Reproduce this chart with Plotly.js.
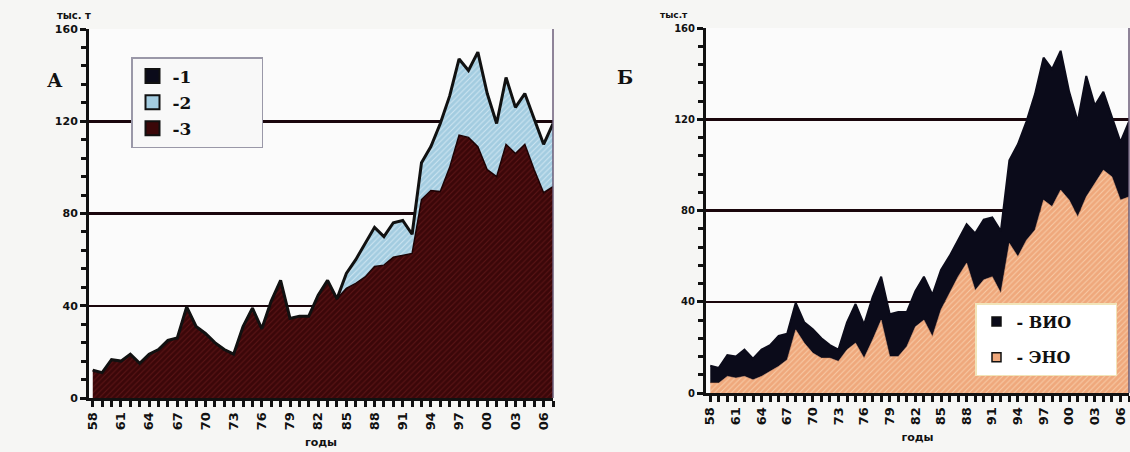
<!DOCTYPE html>
<html>
<head>
<meta charset="utf-8">
<script src="https://cdn.plot.ly/plotly-3.0.1.min.js"></script>
<style>html,body{margin:0;padding:0;background:#f6f6f4;}#chart{width:1130px;height:452px;}</style>
</head>
<body>
<div id="chart"></div>
<script>
// Years 1958–2007
const years = [1958,1959,1960,1961,1962,1963,1964,1965,1966,1967,
               1968,1969,1970,1971,1972,1973,1974,1975,1976,1977,
               1978,1979,1980,1981,1982,1983,1984,1985,1986,1987,
               1988,1989,1990,1991,1992,1993,1994,1995,1996,1997,
               1998,1999,2000,2001,2002,2003,2004,2005,2006,2007];
const tickYears = [1958,1961,1964,1967,1970,1973,1976,1979,1982,1985,1988,1991,1994,1997,2000,2003,2006];
const tickLabels = ['58','61','64','67','70','73','76','79','82','85','88','91','94','97','00','03','06'];
const yTicks = [0,40,80,120,160];

// Chart A: series 3 (bottom, maroon) and series 2 (blue, above), thousand t
const series3 = [12,11,16.6,16,19,15,19,21,25,26,
                 39.5,31,28,24,21,19,31,39,30,42,
                 51,34.5,35.5,35.5,44.6,51,43,47.5,49.7,52.5,
                 57,57.6,61,62,62.7,86,90,89.5,100,114,
                 113,109,99,96,110,106,110,99,89,91.6];
const series2 = [0,0,0,0,0,0,0,0,0,0,
                 0,0,0,0,0,0,0,0,0,0,
                 0,0,0,0,0,0,0,6.5,10.3,14.5,
                 17,12.4,15,15,8.3,16,19,29.5,31,33,
                 29,41,33,23,29,20,22,22,21,27.4];

// Chart Б: ЭНО (bottom) and ВИО (top)
const eno = [4.4,4.4,7.3,6.6,7.3,5.8,7.3,9.5,11.7,14.6,
             27.7,21.9,17.5,15.3,15.3,13.9,19,21.9,15.3,23.3,
             32,16,16,20.4,29,32,24.8,36.5,43.8,51,
             57,45,49.6,51,43.8,65.6,59.8,67,71.5,84.6,
             81.7,89,84.6,77.3,86,91.9,97.7,94.8,84.6,86];
const vio = [7.6,6.6,9.3,9.4,11.7,9.2,11.7,11.5,13.3,11.4,
             11.8,9.1,10.5,8.7,5.7,5.1,12,17.1,14.7,18.7,
             19,18.5,19.5,15.1,15.6,19,18.2,17.5,16.2,16,
             17,25,26.4,26,27.2,36.4,49.2,52,59.5,62.4,
             60.3,61,47.4,41.7,53,34.1,34.3,26.2,25.4,33];

const legendA = ['-1','-2','-3'];
const legendB = ['- ВИО','- ЭНО'];

const C = {
  maroon:'#3b0709', maroonHatch:'#5c1516',
  blue:'#a3cce0', blueHatch:'#cfe6f2',
  black:'#0b0b1a',
  orange:'#efa87c', orangeHatch:'#f8cba8',
  ink:'#111111'
};
const PAD = '\u00a0\u00a0\u00a0\u00a0\u00a0\u00a0\u00a0\u00a0\u00a0\u00a0\u00a0';

const traces = [
  {x:years, y:series3, xaxis:'x', yaxis:'y', type:'scatter', mode:'lines', stackgroup:'a',
   line:{color:'#1c0204', width:1.5}, fillcolor:C.maroon,
   fillpattern:{shape:'/', fgcolor:C.maroonHatch, bgcolor:C.maroon, size:4, solidity:0.25},
   showlegend:false, hoverinfo:'skip'},
  {x:years, y:series2, xaxis:'x', yaxis:'y', type:'scatter', mode:'lines', stackgroup:'a',
   line:{color:C.ink, width:3}, fillcolor:C.blue,
   fillpattern:{shape:'/', fgcolor:C.blueHatch, bgcolor:C.blue, size:4, solidity:0.25},
   showlegend:false, hoverinfo:'skip'},
  {x:years, y:eno, xaxis:'x2', yaxis:'y2', type:'scatter', mode:'lines', stackgroup:'b',
   line:{color:'#d98a5e', width:0.5}, fillcolor:C.orange,
   fillpattern:{shape:'/', fgcolor:C.orangeHatch, bgcolor:C.orange, size:4, solidity:0.25},
   showlegend:false, hoverinfo:'skip'},
  {x:years, y:vio, xaxis:'x2', yaxis:'y2', type:'scatter', mode:'lines', stackgroup:'b',
   line:{color:C.black, width:2}, fillcolor:C.black,
   showlegend:false, hoverinfo:'skip'},
  // legend entries
  {x:[null], y:[null], xaxis:'x', yaxis:'y', type:'scatter', mode:'markers', name:legendA[0]+PAD, legend:'legend', legendgroup:'a1',
   marker:{symbol:'square', size:14, color:C.black, line:{color:C.ink, width:2}}},
  {x:[null], y:[null], xaxis:'x', yaxis:'y', type:'scatter', mode:'markers', name:legendA[1]+PAD, legend:'legend', legendgroup:'a2',
   marker:{symbol:'square', size:14, color:C.blue, line:{color:C.ink, width:2}}},
  {x:[null], y:[null], xaxis:'x', yaxis:'y', type:'scatter', mode:'markers', name:legendA[2]+PAD, legend:'legend', legendgroup:'a3',
   marker:{symbol:'square', size:14, color:C.maroon, line:{color:C.ink, width:2}}},
  {x:[null], y:[null], xaxis:'x2', yaxis:'y2', type:'scatter', mode:'markers', name:legendB[0]+PAD.slice(0,7), legend:'legend2', legendgroup:'b1',
   marker:{symbol:'square', size:9, color:C.black, line:{color:C.ink, width:1.5}}},
  {x:[null], y:[null], xaxis:'x2', yaxis:'y2', type:'scatter', mode:'markers', name:legendB[1]+PAD.slice(0,7), legend:'legend2', legendgroup:'b2',
   marker:{symbol:'square', size:9, color:C.orange, line:{color:C.ink, width:1.5}}}
];

function xAxis(domain, range, anchor){
  return {
    domain:domain, range:range, anchor:anchor,
    tickmode:'array', tickvals:tickYears, ticktext:tickLabels, tickangle:-90,
    tickfont:{family:'DejaVu Sans', size:13, color:C.ink, weight:'bold'},
    ticks:'outside', ticklen:6, tickwidth:3, tickcolor:C.ink,
    minor:{dtick:1, ticks:'outside', ticklen:6, tickwidth:3, tickcolor:C.ink},
    showline:true, linewidth:3, linecolor:C.ink, showgrid:false, zeroline:false,
    title:{text:'годы', font:{family:'DejaVu Sans', size:11, color:C.ink, weight:'bold'}, standoff:10}
  };
}
function yAxis(domain, anchor, fontSize){
  return {
    domain:domain, range:[0,160], anchor:anchor,
    tickmode:'array', tickvals:yTicks,
    tickfont:{family:'DejaVu Sans', size:fontSize, color:C.ink, weight:'bold'},
    ticks:'outside', ticklen:6, tickwidth:3, tickcolor:C.ink,
    minor:{dtick:8, ticks:'outside', ticklen:5, tickwidth:3, tickcolor:C.ink},
    showline:true, linewidth:3, linecolor:C.ink,
    showgrid:true, gridcolor:'#1a060c', gridwidth:2.5, zeroline:false
  };
}

const layout = {
  width:1130, height:452,
  margin:{l:0, r:0, t:0, b:0},
  paper_bgcolor:'#f6f6f4', plot_bgcolor:'#fbfbfb',
  xaxis: xAxis([89/1130, 553/1130], [1957.6, 2007], 'y'),
  yaxis: yAxis([(452-398)/452, (452-29)/452], 'x', 11),
  xaxis2: xAxis([706/1130, 1129/1130], [1957.5, 2007], 'y2'),
  yaxis2: yAxis([(452-393)/452, (452-28)/452], 'x2', 10),
  legend:{x:131/1130, y:1-57/452, xanchor:'left', yanchor:'top',
          bgcolor:'#f8f8f8', bordercolor:'#9a98a8', borderwidth:1.5,
          font:{family:'DejaVu Serif', size:17, color:C.ink, weight:'bold'},
          traceorder:'grouped', tracegroupgap:1, itemclick:false},
  legend2:{x:975/1130, y:1-303/452, xanchor:'left', yanchor:'top',
          bgcolor:'#ffffff', bordercolor:'#f1e4b8', borderwidth:1.5,
          font:{family:'DejaVu Serif', size:16, color:C.ink, weight:'bold'},
          traceorder:'grouped', tracegroupgap:12, itemclick:false},
  shapes:[
    {type:'line', xref:'x domain', yref:'y domain', x0:1, x1:1, y0:0, y1:1, line:{color:'#6b5d78', width:1.5}},
    {type:'line', xref:'x2 domain', yref:'y2 domain', x0:1, x1:1, y0:0, y1:1, line:{color:'#6b5d78', width:1.5}}
  ],
  annotations:[
    {text:'тыс. т', xref:'paper', yref:'paper', x:56/1130, y:1-9/452, showarrow:false, borderpad:0,
     font:{family:'DejaVu Sans', size:10, color:C.ink, weight:'bold'}},
    {text:'тыс.т', xref:'paper', yref:'paper', x:674/1130, y:1-9/452, showarrow:false, borderpad:0,
     font:{family:'DejaVu Sans', size:9, color:C.ink, weight:'bold'}},
    {text:'А', xref:'paper', yref:'paper', x:45/1130, y:1-67/452, showarrow:false,
     font:{family:'DejaVu Serif', size:19, color:C.ink, weight:'bold'}},
    {text:'Б', xref:'paper', yref:'paper', x:625/1130, y:1-64/452, showarrow:false,
     font:{family:'DejaVu Serif', size:19, color:C.ink, weight:'bold'}}
  ],
  showlegend:true
};

// Bring the library's own axis layers (tick marks) to the front of the drawing
function raiseAxisLayers(){
  const svgs = document.querySelectorAll('#chart svg.main-svg');
  if (!svgs.length) return;
  const top = svgs[svgs.length - 1];
  document.querySelectorAll('#chart g.xaxislayer-above, #chart g.yaxislayer-above').forEach(function(g){
    if (g.parentNode !== top) top.appendChild(g);
  });
}

Plotly.newPlot('chart', traces, layout, {staticPlot:true, displayModeBar:false}).then(function(){
  raiseAxisLayers();
  setTimeout(raiseAxisLayers, 200);
});
</script>
</body>
</html>
